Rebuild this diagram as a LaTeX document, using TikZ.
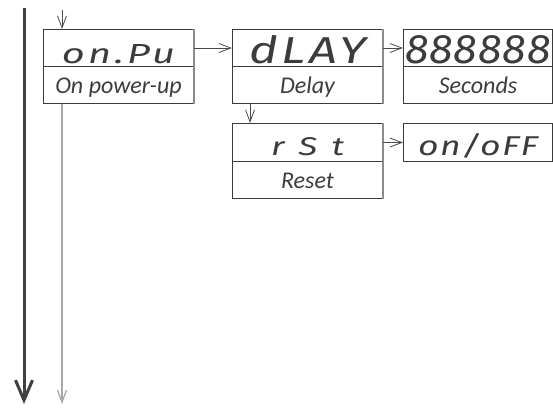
\documentclass[tikz,border=0pt]{standalone}
\usepackage{fontspec}
\usepackage{graphicx}
\usetikzlibrary{arrows.meta}
\newfontfamily\labfont{Carlito}
\newfontfamily\segfont{Fira Sans}
\definecolor{boxc}{HTML}{3A3A3A}
\definecolor{txtc}{HTML}{3C3C3C}
\definecolor{arrc}{HTML}{4A4A4A}
\definecolor{lightc}{HTML}{A8A8A8}
\definecolor{edgec}{HTML}{8C8C8C}
\definecolor{thickc}{HTML}{404040}
\newcommand{\seg}[5]{\resizebox{#1pt}{#2pt}{\fontsize{#3}{#3}\segfont\itshape\addfontfeature{LetterSpace=#4}#5}}
\begin{document}
\begin{tikzpicture}[x=1pt,y=-1pt,
  disp/.style={draw=boxc, line width=1pt, minimum width=150pt, inner sep=0pt,
    text height=34pt, text depth=3pt, anchor=north west, text=txtc},
  disp2/.style={disp, text height=32pt, text depth=6pt},
  lab/.style={draw=boxc, line width=1pt, minimum width=150pt, inner sep=0pt,
    text height=27pt, text depth=10pt, anchor=north west, text=txtc,
    font=\labfont\itshape\fontsize{24}{24}\selectfont},
  edge/.style={draw=edgec, line width=1.6pt},
  arr/.style={draw=arrc, line width=0.8pt, -{Straight Barb[length=12pt,width=9pt]}},
  lightarr/.style={draw=lightc, line width=1.3pt, -{Straight Barb[length=12pt,width=9pt]}},
  thickarr/.style={draw=thickc, line width=3pt, -{Straight Barb[length=20pt,width=17pt]}}]
\useasboundingbox (0,0) rectangle (553,407);

% boxes
\node[disp] (onpu) at (43,29) {\seg{113}{19}{27.6}{8}{on.Pu}};
\node[lab] (onpuL) at (43,66) {On power-up};
\node[disp] (dlay) at (232,29) {\seg{117}{28}{40}{8}{dLAY}};
\node[lab] (dlayL) at (232,66) {Delay};
\node[disp, minimum width=149pt] (sec) at (403,29) {\seg{146}{28}{40}{2}{888888}};
\node[lab, minimum width=149pt] (secL) at (403,66) {Seconds};
\node[disp2] (rst) at (232,123) {\seg{73}{18}{26}{40}{rSt}\hspace{18pt}};
\node[lab] (rstL) at (232,161) {Reset};
\node[disp2, minimum width=149pt] (onoff) at (403,123) {\seg{120}{22}{32}{4}{on/oFF}};

% lighter right edges
\draw[edge] (onpu.north east) -- (onpuL.south east);
\draw[edge] (dlay.north east) -- (dlayL.south east);
\draw[edge] (rst.north east) -- (rstL.south east);

% coordinates
\coordinate (tin) at (62,10);
\coordinate (tout) at (62,404);
\coordinate (ttop) at (24,8);
\coordinate (tbot) at (24,404);

% connectors
\draw[thickarr] (ttop) -- (tbot);
\draw[arr] (tin) -- (tin |- onpu.north);
\draw[lightarr] (tin |- onpuL.south) -- (tout);
\draw[arr] (onpu.east) -- (dlay.west);
\draw[arr] (dlay.east) -- (sec.west);
\draw[arr] (dlayL.south -| 250,0) -- (rst.north -| 250,0);
\draw[arr] (rst.east) -- (onoff.west);
\end{tikzpicture}
\end{document}
